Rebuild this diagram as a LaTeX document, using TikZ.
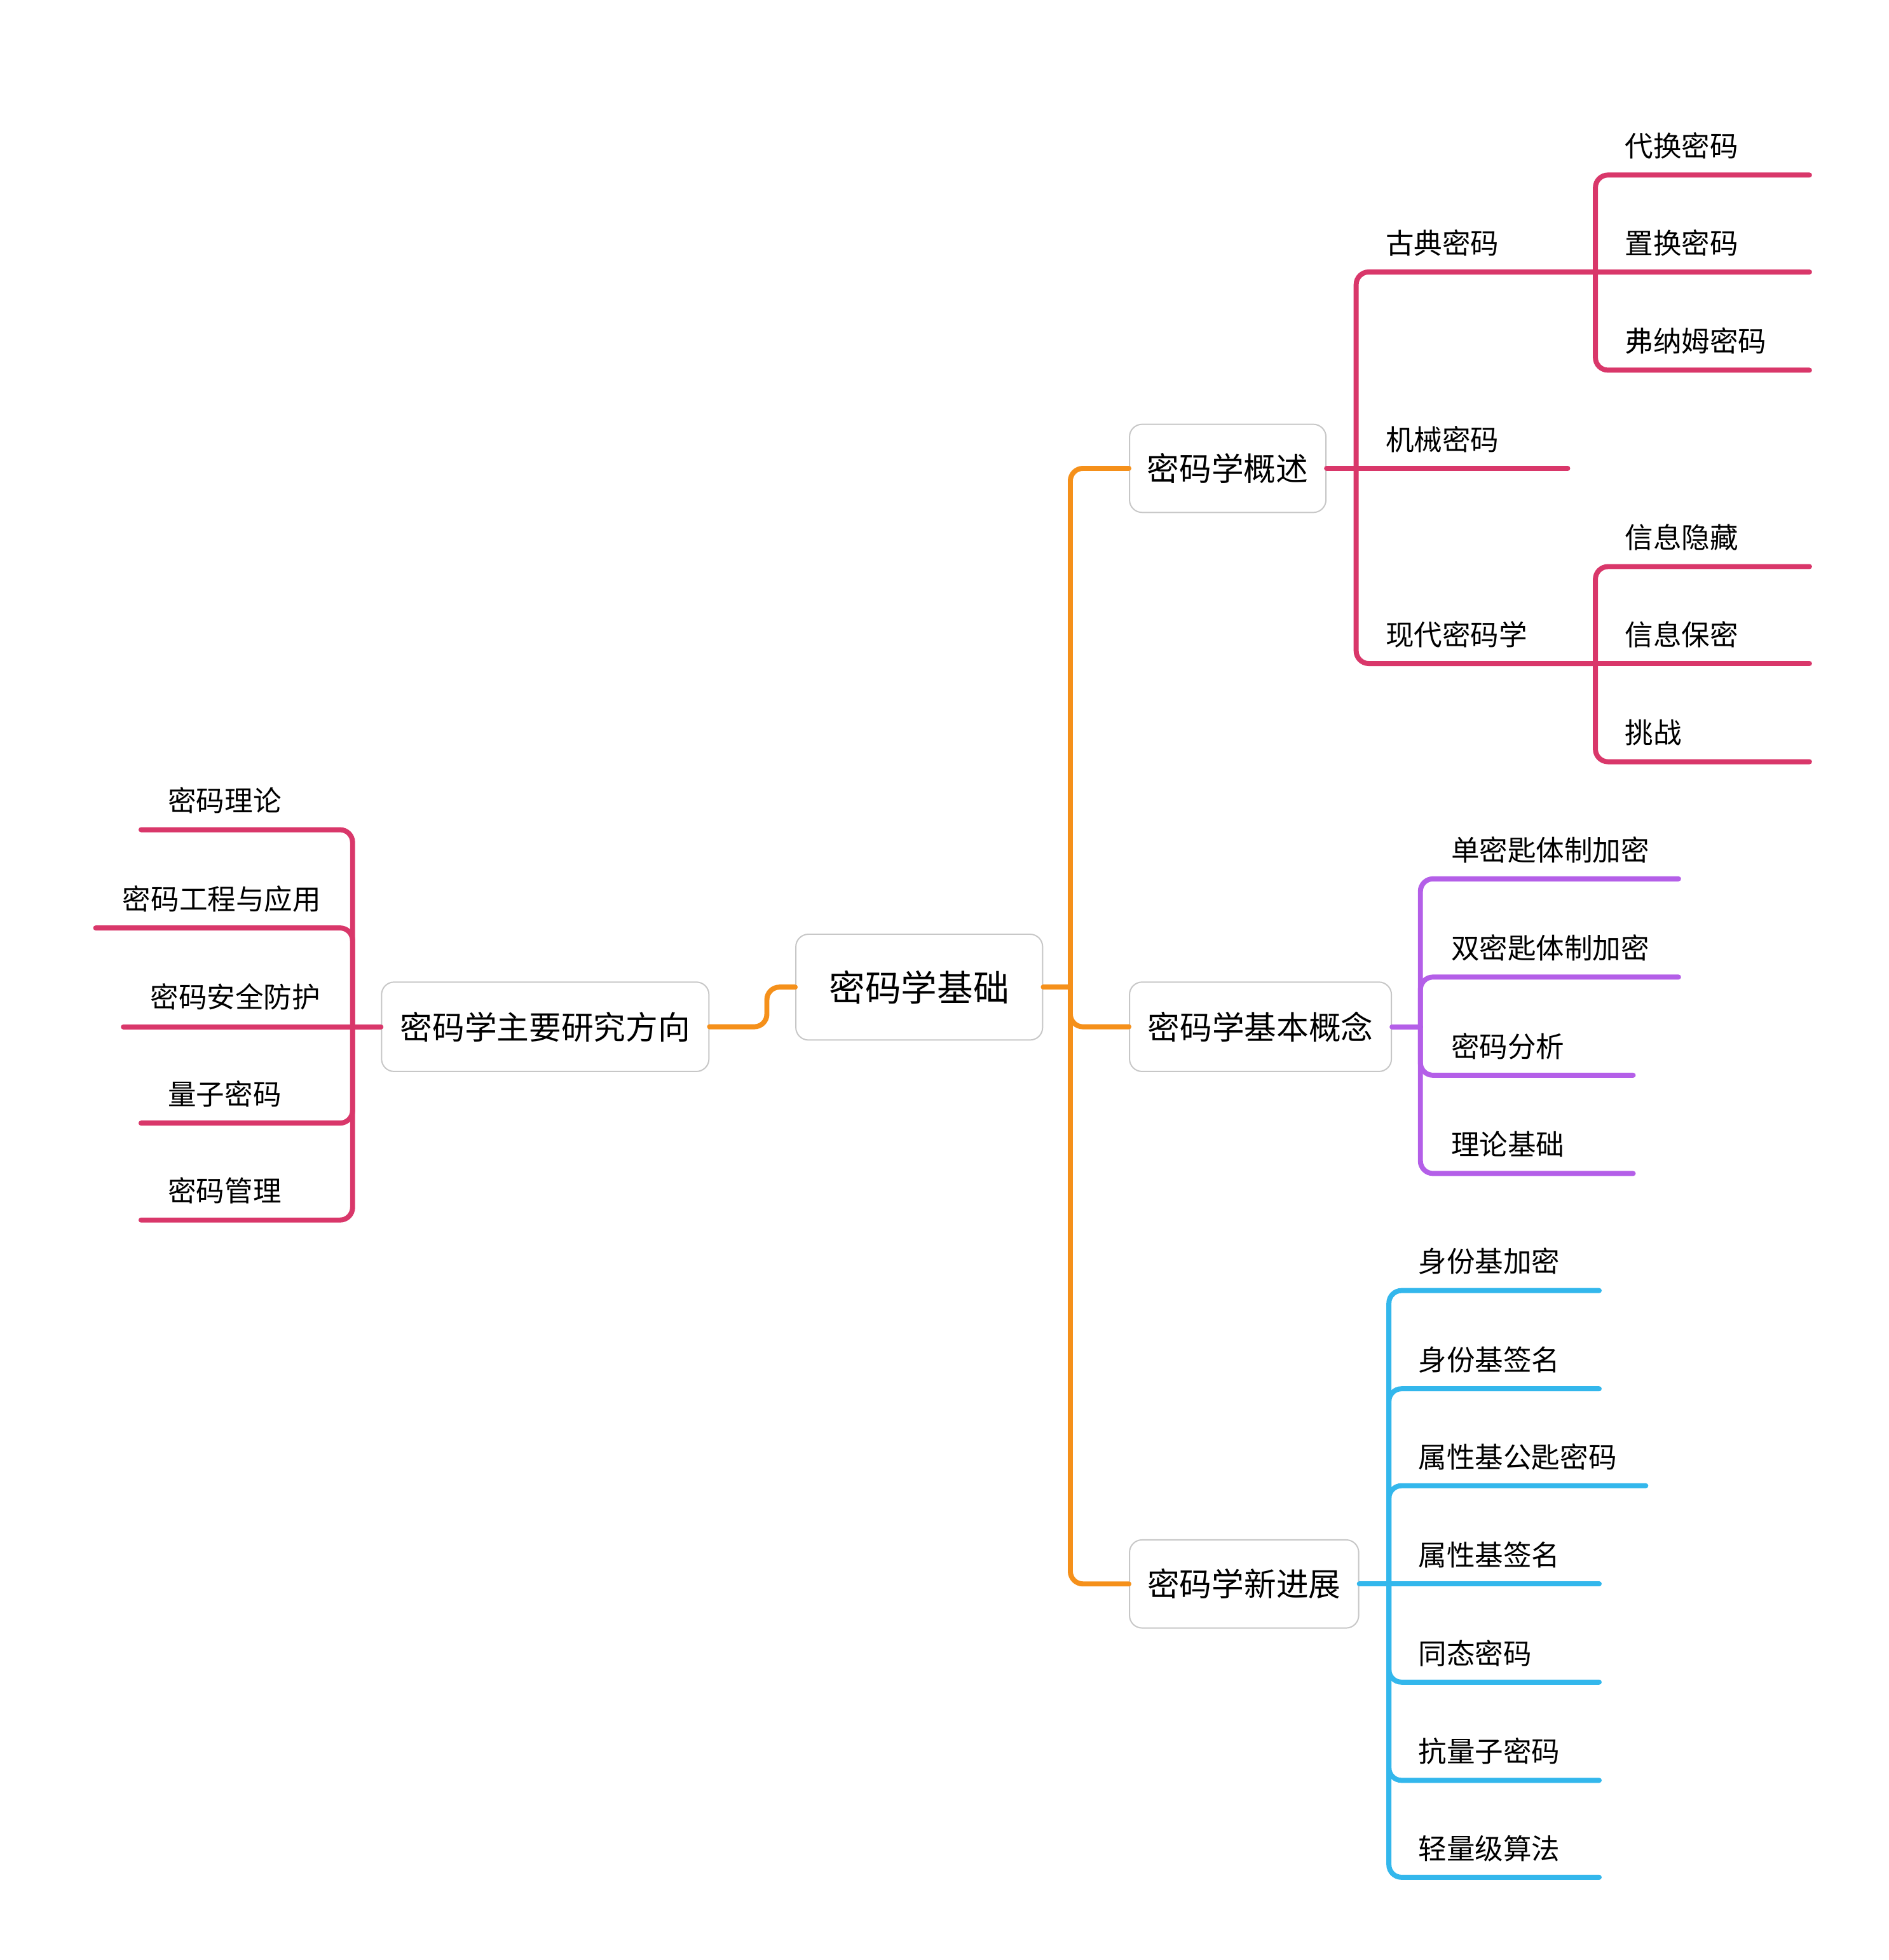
\documentclass[tikz,border=0pt]{standalone}
\usepackage{fontspec}
\newfontfamily\cjk{Noto Sans CJK SC}
\definecolor{corange}{HTML}{F5901A}
\definecolor{cpink}{HTML}{D9376A}
\definecolor{cpurple}{HTML}{B45FE8}
\definecolor{cblue}{HTML}{33B7EC}
\begin{document}
\begin{tikzpicture}[x=0.5pt,y=-0.5pt,
  topic/.style={draw=black!22, line width=0.5pt, fill=white, rounded corners=5pt, inner sep=0pt,
    font=\cjk\fontsize{12.8pt}{14pt}\selectfont},
  lbl/.style={anchor=base west, inner sep=0pt, font=\cjk\fontsize{11.25pt}{13pt}\selectfont},
  conn/.style={line width=2pt, line cap=round, rounded corners=5pt}]
\useasboundingbox[fill=white] (0,0) rectangle (1500,1556.7);

% topic boxes
\node[topic, minimum width=98pt, minimum height=42pt, font=\cjk\fontsize{14.3pt}{16pt}\selectfont] (root) at (730,784) {密码学基础};
\node[topic, minimum width=78pt, minimum height=35pt] (A) at (975,372) {密码学概述};
\node[topic, minimum width=104pt, minimum height=35.5pt] (B) at (1001,815.5) {密码学基本概念};
\node[topic, minimum width=91pt, minimum height=35pt] (C) at (988,1258) {密码学新进展};
\node[topic, minimum width=130pt, minimum height=35.5pt] (L) at (433,815.5) {密码学主要研究方向};

% junctions
\coordinate (jR) at (850,784);
\coordinate (jL) at (609,784);
\coordinate (jA) at (1077,372);
\coordinate (jG) at (1267,216);
\coordinate (jX) at (1267,527);
\coordinate (jB) at (1128,815.5);
\coordinate (jC) at (1103,1258);
\coordinate (jLL) at (280,815.5);

% orange main connectors
\draw[conn, corange] (root.east) -- (jR);
\draw[conn, corange] (jR) |- (A.west);
\draw[conn, corange] (jR) |- (B.west);
\draw[conn, corange] (jR) |- (C.west);
\draw[conn, corange] (root.west) -- (jL) |- (L.east);

% ---- 密码学概述 (pink)
\coordinate (eJ) at (1245,372);
\coordinate (e1) at (1437,139);
\coordinate (e2) at (1437,216);
\coordinate (e3) at (1437,294);
\coordinate (e4) at (1437,450);
\coordinate (e5) at (1437,527);
\coordinate (e6) at (1437,605);
\draw[conn, cpink] (A.east) -- (jA);
\draw[conn, cpink] (jA) |- (jG);
\draw[conn, cpink] (jA) -- (eJ);
\draw[conn, cpink] (jA) |- (jX);
\draw[conn, cpink] (jG) |- (e1);
\draw[conn, cpink] (jG) -- (e2);
\draw[conn, cpink] (jG) |- (e3);
\draw[conn, cpink] (jX) |- (e4);
\draw[conn, cpink] (jX) -- (e5);
\draw[conn, cpink] (jX) |- (e6);
\node[lbl] (gudian) at (1100,201.5) {古典密码};
\node[lbl] (jixie) at (1100,357.5) {机械密码};
\node[lbl] (xiandai) at (1100,512.5) {现代密码学};
\node[lbl] (daihuan) at (1290,124.5) {代换密码};
\node[lbl] (zhihuan) at (1290,201.5) {置换密码};
\node[lbl] (funamu) at (1290,279.5) {弗纳姆密码};
\node[lbl] (yincang) at (1290,435.5) {信息隐藏};
\node[lbl] (baomi) at (1290,512.5) {信息保密};
\node[lbl] (tiaozhan) at (1290,590.5) {挑战};

% ---- 密码学基本概念 (purple)
\coordinate (p1) at (1333,698);
\coordinate (p2) at (1333,776);
\coordinate (p3) at (1297,854);
\coordinate (p4) at (1297,932);
\draw[conn, cpurple] (B.east) -- (jB);
\foreach \p in {p1,p2,p3,p4} \draw[conn, cpurple] (jB) |- (\p);
\node[lbl] (dan) at (1152,683.5) {单密匙体制加密};
\node[lbl] (shuang) at (1152,761.5) {双密匙体制加密};
\node[lbl] (fenxi) at (1152,839.5) {密码分析};
\node[lbl] (lilun) at (1152,917.5) {理论基础};

% ---- 密码学新进展 (blue)
\coordinate (b1) at (1270,1025);
\coordinate (b2) at (1270,1103);
\coordinate (b3) at (1307,1180);
\coordinate (b4) at (1270,1258);
\coordinate (b5) at (1270,1336);
\coordinate (b6) at (1270,1414);
\coordinate (b7) at (1270,1491);
\draw[conn, cblue] (C.east) -- (jC);
\foreach \p in {b1,b2,b3,b5,b6,b7} \draw[conn, cblue] (jC) |- (\p);
\draw[conn, cblue] (jC) -- (b4);
\node[lbl] (sfjm) at (1126,1010.5) {身份基加密};
\node[lbl] (sfqm) at (1126,1088.5) {身份基签名};
\node[lbl] (sxgy) at (1126,1165.5) {属性基公匙密码};
\node[lbl] (sxqm) at (1126,1243.5) {属性基签名};
\node[lbl] (tongtai) at (1126,1321.5) {同态密码};
\node[lbl] (kangliang) at (1126,1399.5) {抗量子密码};
\node[lbl] (qingliang) at (1126,1476.5) {轻量级算法};

% ---- 密码学主要研究方向 (pink, left)
\coordinate (l1) at (112,659);
\coordinate (l2) at (76,737);
\coordinate (l3) at (98,815.5);
\coordinate (l4) at (112,892);
\coordinate (l5) at (112,969);
\draw[conn, cpink] (L.west) -- (jLL);
\foreach \p in {l1,l2,l4,l5} \draw[conn, cpink] (jLL) |- (\p);
\draw[conn, cpink] (jLL) -- (l3);
\node[lbl] (mmll) at (133,644.5) {密码理论};
\node[lbl] (mmgc) at (97,722.5) {密码工程与应用};
\node[lbl] (mmaq) at (119,800.5) {密码安全防护};
\node[lbl] (lzmm) at (133,877.5) {量子密码};
\node[lbl] (mmgl) at (133,954.5) {密码管理};
\end{tikzpicture}
\end{document}
